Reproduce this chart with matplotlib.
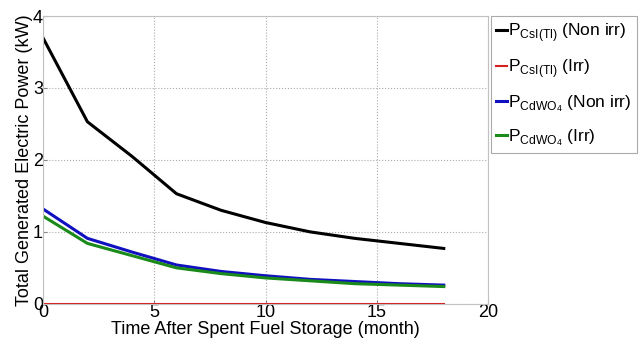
import numpy as np
import matplotlib
matplotlib.use('Agg')
from matplotlib import pyplot as plt

plt.rcParams['font.family'] = ['Liberation Sans', 'DejaVu Sans']
plt.rcParams['mathtext.fontset'] = 'custom'
plt.rcParams['mathtext.rm'] = 'Liberation Sans'

months = [0, 2, 4, 6, 8, 10, 12, 14, 16, 18]
csi_non_irr = [3.70, 2.53, 2.05, 1.53, 1.30, 1.13, 1.00, 0.91, 0.84, 0.77]
csi_irr = [0, 0, 0, 0, 0, 0, 0, 0, 0, 0]
cdwo4_non_irr = [1.32, 0.91, 0.72, 0.54, 0.45, 0.39, 0.34, 0.31, 0.28, 0.26]
cdwo4_irr = [1.22, 0.84, 0.67, 0.50, 0.42, 0.36, 0.32, 0.28, 0.26, 0.24]

labels = [r'P$_{\mathregular{CsI(Tl)}}$ (Non irr)',
          r'P$_{\mathregular{CsI(Tl)}}$ (Irr)',
          r'P$_{\mathregular{CdWO_4}}$ (Non irr)',
          r'P$_{\mathregular{CdWO_4}}$ (Irr)']
colors = ['black', '#d62020', '#1010c0', '#1a8a1a']

fig = plt.figure(figsize=(6.4, 3.41), dpi=100)
ax = fig.add_axes([0.067, 0.109, 0.696, 0.844])

for ys, c, lab in zip([csi_non_irr, csi_irr, cdwo4_non_irr, cdwo4_irr], colors, labels):
    ax.plot(months, ys, color=c, lw=2.2 if c != '#d62020' else 1.5, label=lab)

ax.set_xlim(0, 20)
ax.set_ylim(0, 4)
ax.set_xticks([0, 5, 10, 15, 20])
ax.set_yticks([0, 1, 2, 3, 4])
ax.grid(True, linestyle=':', color='#aaaaaa', lw=0.8)
ax.tick_params(direction='in', labelsize=13, pad=0, length=3, color='#888888')
for s in ax.spines.values():
    s.set_color('#c0c0c0')
ax.set_xlabel('Time After Spent Fuel Storage (month)', fontsize=13, labelpad=0)
ax.set_ylabel('Total Generated Electric Power (kW)', fontsize=13, labelpad=0)

leg = ax.legend(loc='upper left', bbox_to_anchor=(1.006, 1.0), fontsize=12.5,
                handlelength=0.6, handletextpad=0.1, borderaxespad=0,
                borderpad=0.3, labelspacing=0.75, fancybox=False, framealpha=1)
leg.get_frame().set_edgecolor('#aaaaaa')
leg.get_frame().set_linewidth(0.8)

fig.savefig('out.png', dpi=100)
